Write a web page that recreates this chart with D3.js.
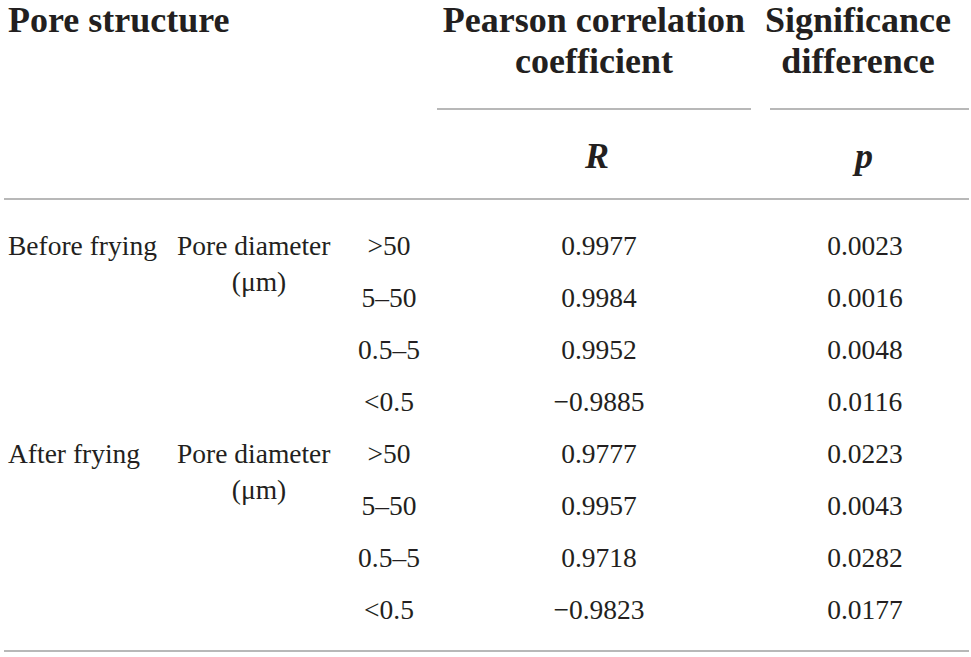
<!DOCTYPE html>
<html>
<head>
<meta charset="utf-8">
<script src="https://cdn.jsdelivr.net/npm/d3@7"></script>
<style>
  body { margin: 0; background: #fff; }
  svg { display: block; }
  text { font-family: "Liberation Serif", "Times New Roman", serif; fill: #231f20; }
</style>
</head>
<body>
<svg id="chart" width="971" height="657"></svg>
<script>
// table content
const stages = ["Before frying", "After frying"];
const diameters = [">50", "5–50", "0.5–5", "<0.5"];
const rValues = ["0.9977", "0.9984", "0.9952", "−0.9885", "0.9777", "0.9957", "0.9718", "−0.9823"];
const pValues = ["0.0023", "0.0016", "0.0048", "0.0116", "0.0223", "0.0043", "0.0282", "0.0177"];

const svg = d3.select("#chart");

// build rows from the arrays
const rows = rValues.map((r, i) => ({
  stage: stages[Math.floor(i / diameters.length)],
  diam: diameters[i % diameters.length],
  r: r,
  p: pValues[i],
  first: i % diameters.length === 0
}));

const yRow = d3.scalePoint()
  .domain(d3.range(rows.length))
  .range([245, 609]);

const col = {stage: 8, pore: 177, unit: 259, diam: 389, r: 599, p: 865};
const bodySize = 27.5, headSize = 36;
const rule = "#a0a0a0";

// header
const head = svg.append("g").attr("font-weight", "bold").attr("font-size", headSize);
head.append("text").attr("x", col.stage).attr("y", 32).text("Pore structure");
head.append("text").attr("x", 594).attr("y", 32).attr("text-anchor", "middle").text("Pearson correlation");
head.append("text").attr("x", 594).attr("y", 73).attr("text-anchor", "middle").text("coefficient");
head.append("text").attr("x", 858).attr("y", 32).attr("text-anchor", "middle").text("Significance");
head.append("text").attr("x", 858).attr("y", 73).attr("text-anchor", "middle").text("difference");
head.append("text").attr("x", 597).attr("y", 168).attr("text-anchor", "middle").attr("font-style", "italic").text("R");
head.append("text").attr("x", 864).attr("y", 168).attr("text-anchor", "middle").attr("font-style", "italic").text("p");

// rules
const lines = [
  {x1: 437, x2: 751, y: 109},
  {x1: 770, x2: 969, y: 109},
  {x1: 4, x2: 969, y: 199},
  {x1: 4, x2: 969, y: 651}
];
svg.selectAll(".rule")
  .data(lines)
  .join("line")
  .attr("class", "rule")
  .attr("x1", d => d.x1).attr("x2", d => d.x2)
  .attr("y1", d => d.y).attr("y2", d => d.y)
  .attr("stroke", rule).attr("stroke-width", 1.6);

// body rows
const body = svg.append("g").attr("font-size", bodySize);

const row = body.selectAll(".row")
  .data(rows)
  .join("g")
  .attr("class", "row")
  .attr("transform", (d, i) => `translate(0,${yRow(i) + 10})`);

row.filter(d => d.first).append("text")
  .attr("x", col.stage)
  .text(d => d.stage);

row.filter(d => d.first).append("text")
  .attr("x", col.pore)
  .text("Pore diameter");

row.filter(d => d.first).append("text")
  .attr("x", col.unit)
  .attr("y", 36)
  .attr("text-anchor", "middle")
  .text("(μm)");

row.append("text")
  .attr("x", col.diam)
  .attr("text-anchor", "middle")
  .text(d => d.diam);

row.append("text")
  .attr("x", col.r)
  .attr("text-anchor", "middle")
  .text(d => d.r);

row.append("text")
  .attr("x", col.p)
  .attr("text-anchor", "middle")
  .text(d => d.p);
</script>
</body>
</html>
